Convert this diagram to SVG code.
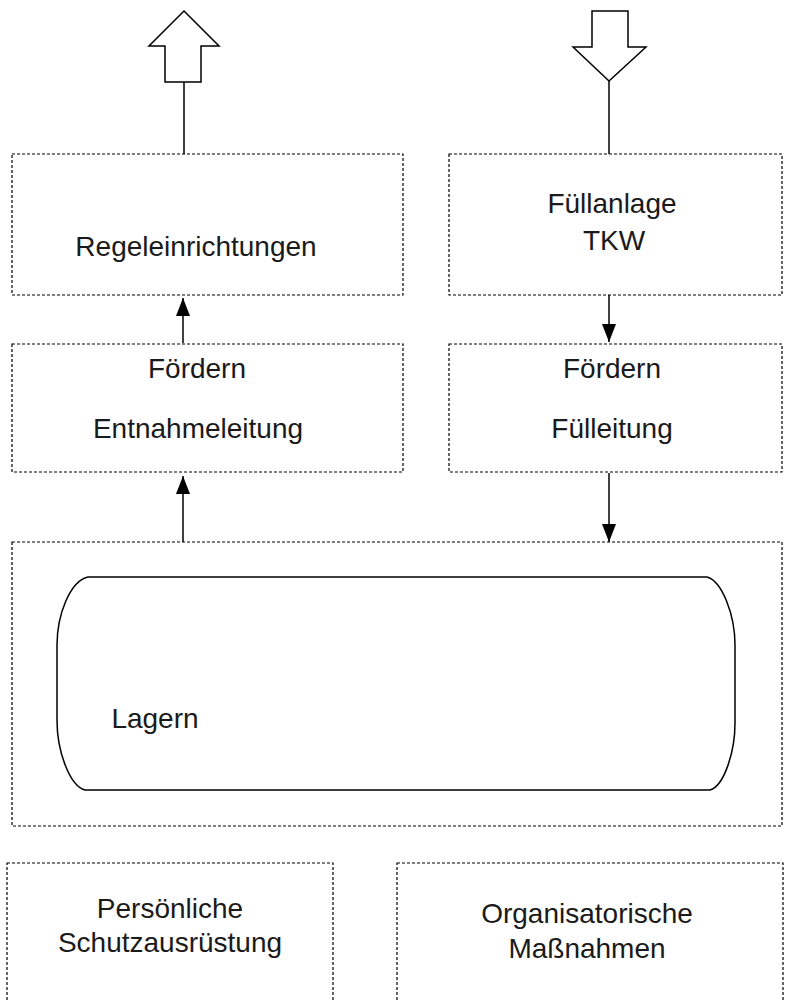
<svg xmlns="http://www.w3.org/2000/svg" width="785" height="1002" viewBox="0 0 785 1002">
<style>
.box{fill:none;stroke:#000;stroke-width:1.2;stroke-dasharray:3 2}
.ln{fill:none;stroke:#000;stroke-width:1.5}
.big{fill:#fff;stroke:#000;stroke-width:1.5}
text{font-family:"Liberation Sans",Arial,sans-serif;font-size:28px;fill:#1a1a1a;text-anchor:middle}
</style>
<defs>
<marker id="ah" viewBox="0 0 18 14" refX="18" refY="7" markerWidth="18" markerHeight="14" markerUnits="userSpaceOnUse" orient="auto">
<path d="M18,7 L0,0 L0,14 Z" fill="#000"/>
</marker>
</defs>
<rect width="785" height="1002" fill="#fff"/>
<g id="connectors">
<polygon class="big" points="184,11 219,46 201,46 201,82 165,82 165,46 149,46"/>
<line class="ln" x1="184" y1="82" x2="184" y2="154"/>
<polygon class="big" points="592,11 628,11 628,47 646,47 609,81 573,47 592,47"/>
<line class="ln" x1="609" y1="81" x2="609" y2="154"/>
<line class="ln" x1="183" y1="343" x2="183" y2="298" marker-end="url(#ah)"/>
<line class="ln" x1="609" y1="295" x2="609" y2="342" marker-end="url(#ah)"/>
<line class="ln" x1="183" y1="542" x2="183" y2="476" marker-end="url(#ah)"/>
<line class="ln" x1="609" y1="473" x2="609" y2="542" marker-end="url(#ah)"/>
</g>
<g id="regeleinrichtungen">
<rect class="box" x="12" y="154" width="391" height="141"/>
<text x="196" y="256">Regeleinrichtungen</text>
</g>
<g id="fuellanlage">
<rect class="box" x="449" y="154" width="333" height="141"/>
<text x="612" y="213">Füllanlage</text>
<text x="614" y="250">TKW</text>
</g>
<g id="foerdern-entnahme">
<rect class="box" x="12" y="344" width="391" height="128"/>
<text x="197" y="378">Fördern</text>
<text x="198" y="438">Entnahmeleitung</text>
</g>
<g id="foerdern-fuell">
<rect class="box" x="449" y="344" width="333" height="128"/>
<text x="612" y="378">Fördern</text>
<text x="612" y="438">Fülleitung</text>
</g>
<g id="lagern">
<rect class="box" x="12" y="542" width="770" height="284"/>
<path class="ln" d="M88,577 H707 C722,581 735,615 735,645 V723 C735,752 724,786 710,790 H85 C70,786 57,752 57,720 V645 C57,615 70,581 88,577 Z"/>
<text x="155" y="728">Lagern</text>
</g>
<g id="psa">
<rect class="box" x="7" y="863" width="326" height="150"/>
<text x="170" y="918">Persönliche</text>
<text x="170" y="952">Schutzausrüstung</text>
</g>
<g id="organisatorisch">
<rect class="box" x="397" y="863" width="386" height="150"/>
<text x="587" y="923">Organisatorische</text>
<text x="587" y="958">Maßnahmen</text>
</g>
</svg>
